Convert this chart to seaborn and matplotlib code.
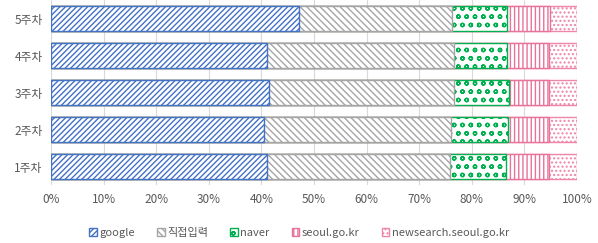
import matplotlib
matplotlib.use("Agg")
import matplotlib.pyplot as plt
import seaborn as sns
import numpy as np
import pandas as pd

weeks = ["5주차", "4주차", "3주차", "2주차", "1주차"]
series = ["google", "직접입력", "naver", "seoul.go.kr", "newsearch.seoul.go.kr"]
google = [47.1, 41.0, 41.4, 40.5, 41.1]
direct = [29.1, 35.6, 35.2, 35.5, 34.8]
naver = [10.5, 10.1, 10.5, 10.9, 10.6]
seoul = [8.2, 8.0, 7.6, 7.8, 8.2]
newsearch = [5.1, 5.3, 5.3, 5.3, 5.3]
xticks = [0, 10, 20, 30, 40, 50, 60, 70, 80, 90, 100]

colors = ["#4472C4", "#A5A5A5", "#00B050", "#E8729A", "#EE86A8"]
hatches = ["//////", "\\\\\\\\\\", "oo", "||||", "...."]

sns.set_theme(style="white")
plt.rcParams['font.family'] = ['Noto Sans CJK KR', 'DejaVu Sans']
plt.rcParams['hatch.linewidth'] = 1.0

fig = plt.figure(figsize=(5.98, 2.43), dpi=100)
ax = fig.add_axes([51/598, 1 - 185/243, 526/598, 185/243])

vals = [google, direct, naver, seoul, newsearch]
cum = np.cumsum(np.array(vals), axis=0)
df = pd.DataFrame({"week": weeks})
for i in range(len(series) - 1, -1, -1):
    df["v"] = cum[i]
    n_before = len(ax.patches)
    sns.barplot(data=df, x="v", y="week", order=weeks, orient="h", ax=ax,
                color="white", width=0.68, saturation=1)
    for p in ax.patches[n_before:]:
        p.set_facecolor("white")
        p.set_edgecolor(colors[i])
        p.set_hatch(hatches[i])
        p.set_linewidth(1.0)

ax.set_xlim(0, 100)
ax.set_ylim(4.5, -0.5)
ax.set_xticks(xticks)
ax.set_xticklabels([f"{t}%" for t in xticks], color="#595959", fontsize=8.5)
ax.tick_params(axis="y", labelcolor="#595959", labelsize=8.5, length=0, pad=6)
ax.tick_params(axis="x", length=0, pad=6)
ax.set_xlabel("")
ax.set_ylabel("")
ax.grid(axis="x", color="#D9D9D9", linewidth=0.8)
ax.set_axisbelow(True)
for s in ax.spines.values():
    s.set_visible(False)

from matplotlib.patches import Patch
handles = [Patch(facecolor="white", edgecolor=colors[i], hatch=hatches[i], label=series[i])
           for i in range(len(series))]
leg = fig.legend(handles=handles, loc="center", bbox_to_anchor=(0.5, 1 - 233/243), ncol=5,
                 frameon=False, fontsize=8, handlelength=0.7, handleheight=0.7,
                 handletextpad=0.2, columnspacing=2.0)
for t in leg.get_texts():
    t.set_color("#595959")

fig.savefig("out.png", dpi=100)
